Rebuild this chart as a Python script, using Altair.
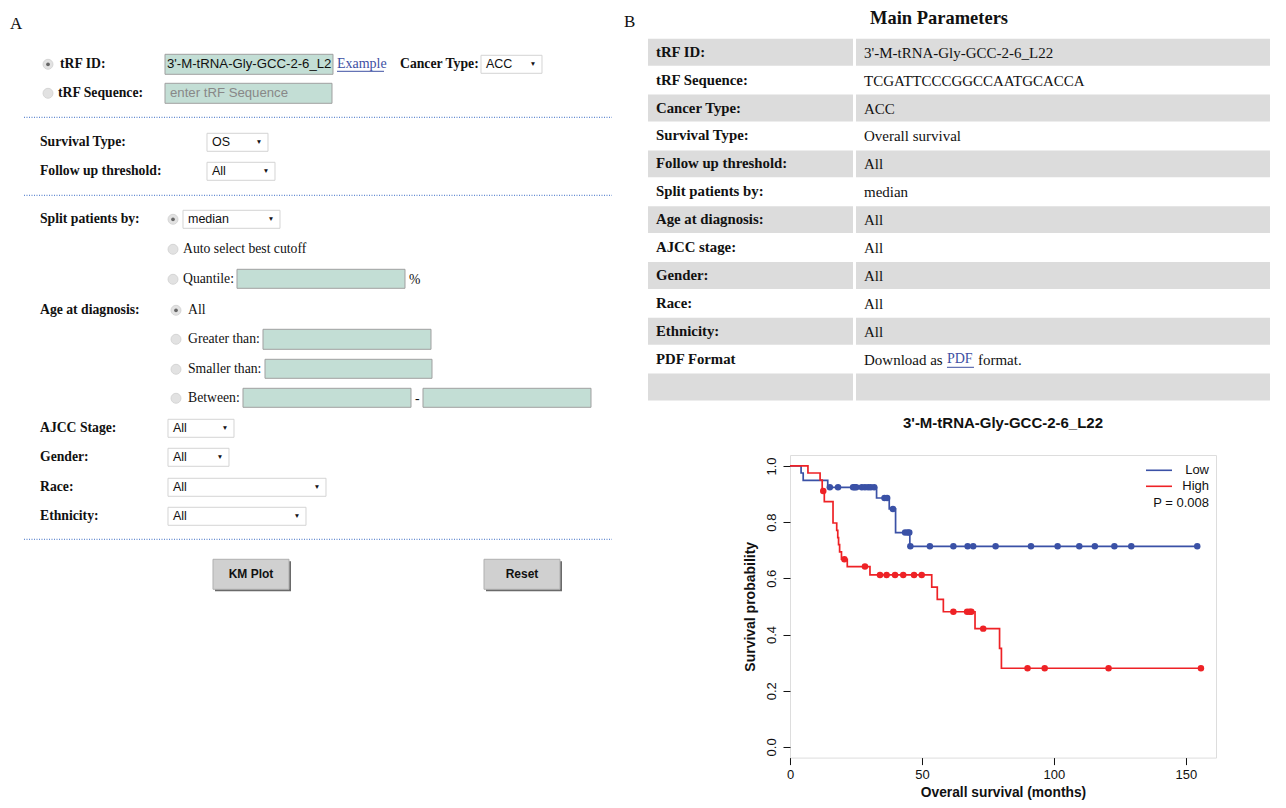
import altair as alt
import pandas as pd

SERIF = "Liberation Serif"
SANS = "Liberation Sans"
BLUE = "#3a51a6"
RED = "#ee2226"

# ---------------- KM data ----------------
low_step_t = [0, 4.2, 5.0, 14.3, 32.8, 37.6, 40.0, 45.4, 154.3]
low_step_s = [1.0, 0.975, 0.949, 0.924, 0.886, 0.847, 0.763, 0.714, 0.714]
low_cens_t = [15.1, 18.2, 23.9, 24.5, 25.1, 27.2, 28.4, 29.6, 30.6, 31.9,
              35.8, 36.8, 39.0, 43.6, 44.6, 45.2,
              45.6, 53.0, 61.9, 67.3, 69.4, 77.9, 91.3, 101.4, 109.6, 115.5, 122.9, 129.3, 154.3]
low_cens_s = [0.924] * 10 + [0.886, 0.886, 0.847, 0.763, 0.763, 0.763] + [0.714] * 13

high_step_t = [0, 6.8, 11.4, 12.2, 13.0, 16.3, 17.7, 18.1, 18.4, 18.8, 19.5, 21.7, 30.3,
               53.7, 55.8, 58.1, 70.1, 79.4, 80.1, 155.7]
high_step_s = [1.0, 0.975, 0.95, 0.911, 0.873, 0.797, 0.771, 0.745, 0.720, 0.694, 0.668, 0.642, 0.612,
               0.569, 0.525, 0.481, 0.421, 0.351, 0.280, 0.280]
high_cens_t = [12.6, 20.6, 28.4, 34.1, 36.6, 39.8, 42.9, 47.0, 49.9,
               61.9, 67.1, 68.1, 68.7, 73.2, 90.0, 96.5, 120.7, 155.7]
high_cens_s = [0.911, 0.668, 0.642] + [0.612] * 6 + [0.481] * 4 + [0.421] + [0.280] * 4

x_ticks = [0, 50, 100, 150]
y_ticks = [0.0, 0.2, 0.4, 0.6, 0.8, 1.0]

# ---------------- page texts / widgets (image coordinates) ----------------
form_bold = [("tRF ID:", 60, 64), ("Cancer Type:", 400, 64), ("tRF Sequence:", 58, 93),
             ("Survival Type:", 40, 142), ("Follow up threshold:", 40, 171),
             ("Split patients by:", 40, 219), ("Age at diagnosis:", 40, 310),
             ("AJCC Stage:", 40, 428), ("Gender:", 40, 457), ("Race:", 40, 487),
             ("Ethnicity:", 40, 516)]
form_plain = [("Auto select best cutoff", 183, 249), ("Quantile:", 183, 279), ("%", 409, 280),
              ("All", 188, 310), ("Greater than:", 188, 339), ("Smaller than:", 188, 369),
              ("Between:", 188, 398), ("-", 415, 399)]
inputs = [(165, 54, 333, 74), (165, 83, 332, 103), (237, 269, 405, 288), (263, 329, 431, 349),
          (265, 359, 432, 378), (243, 388, 411, 407), (423, 388, 591, 407)]
input_texts = [("3'-M-tRNA-Gly-GCC-2-6_L2", 167, 64, "#111111"), ("enter tRF Sequence", 170, 93, "#888888")]
selects = [(481, 55, 542, 73, "ACC"), (207, 133, 268, 151, "OS"), (207, 162, 275, 180, "All"),
           (183, 210, 280, 228, "median"), (168, 419, 234, 437, "All"), (168, 448, 229, 466, "All"),
           (168, 478, 326, 496, "All"), (168, 507, 306, 525, "All")]
radios = [(48, 64, 1), (48, 93, 0), (173, 219, 1), (173, 249, 0), (173, 279, 0),
          (176, 310, 1), (176, 339, 0), (176, 369, 0), (176, 398, 0)]
dotted = [(24, 612, 117), (24, 612, 195), (24, 612, 539)]
buttons = [(213, 559, 289, 589, "KM Plot"), (484, 559, 560, 589, "Reset")]
links = [("Example", 337, 64, 384, 71), ("PDF", 947, 359, 974, 367)]

table_labels = ["tRF ID:", "tRF Sequence:", "Cancer Type:", "Survival Type:", "Follow up threshold:",
                "Split patients by:", "Age at diagnosis:", "AJCC stage:", "Gender:", "Race:",
                "Ethnicity:", "PDF Format", ""]
table_values = ["3'-M-tRNA-Gly-GCC-2-6_L22", "TCGATTCCCGGCCAATGCACCA", "ACC", "Overall survival",
                "All", "median", "All", "All", "All", "All", "All", "Download as", ""]

# ---------------- scales ----------------
UX = alt.Scale(domain=[0, 1286], range=[-790, 496], nice=False, zero=False)
UY = alt.Scale(domain=[0, 808], range=[-454.7, 353.3], nice=False, zero=False)


def ux(f):
    return alt.X(f, type="quantitative", scale=UX, axis=None)


def uy(f):
    return alt.Y(f, type="quantitative", scale=UY, axis=None)


def ux2(f):
    return alt.X2(f)


def uy2(f):
    return alt.Y2(f)


def text_layer(rows, font, size, weight="normal", color="#111111", align="left"):
    df = pd.DataFrame(rows, columns=["t", "x", "y"])
    return alt.Chart(df).mark_text(align=align, baseline="middle", font=font, fontSize=size,
                                   fontWeight=weight, color=color).encode(
        x=ux("x"), y=uy("y"), text="t:N")


def rect_layer(rows, **kw):
    df = pd.DataFrame(rows, columns=["x1", "y1", "x2", "y2"])
    return alt.Chart(df).mark_rect(**kw).encode(x=ux("x1"), x2=ux2("x2"), y=uy("y1"), y2=uy2("y2"))


layers = []
# invisible frame that fixes the page extent
layers.append(rect_layer([(8, 8, 1278, 800)], opacity=0))

# panel letters
layers.append(text_layer([("A", 10, 24), ("B", 624, 22)], SERIF, 17))

# dotted separators
dd = pd.DataFrame(dotted, columns=["x1", "x2", "y"])
layers.append(alt.Chart(dd).mark_rule(color="#3b6cc4", strokeDash=[1, 1.5], strokeWidth=1).encode(
    x=ux("x1"), x2=ux2("x2"), y=uy("y")))

# input boxes
layers.append(rect_layer(inputs, fill="#c3ded5", stroke="#a0a0a0", strokeWidth=1))
# select boxes
layers.append(rect_layer([s[:4] for s in selects], fill="#ffffff", stroke="#d4d4d4", strokeWidth=1))
layers.append(text_layer([(s[4], s[0] + 5, (s[1] + s[3]) / 2) for s in selects], SANS, 12.5))
layers.append(text_layer([("\u25BC", s[2] - 9, (s[1] + s[3]) / 2) for s in selects], SANS, 6.5,
                         align="center"))
layers.append(alt.Chart(pd.DataFrame(input_texts, columns=["t", "x", "y", "c"])).mark_text(
    align="left", baseline="middle", font=SANS, fontSize=13.2).encode(
    x=ux("x"), y=uy("y"), text="t:N", color=alt.Color("c:N", scale=None)))

# radio buttons
rd = pd.DataFrame(radios, columns=["x", "y", "sel"])
layers.append(alt.Chart(rd).mark_point(shape="circle", filled=True, size=100, fill="#e2e2e2",
                                       stroke="#cfcfcf", strokeWidth=0.8, opacity=1).encode(x=ux("x"), y=uy("y")))
layers.append(alt.Chart(rd[rd.sel == 1]).mark_point(shape="circle", filled=True, size=14,
                                                    color="#666666", opacity=1).encode(x=ux("x"), y=uy("y")))

# form labels
layers.append(text_layer(form_bold, SERIF, 13.7, weight="bold"))
layers.append(text_layer(form_plain, SERIF, 13.7))

# links
lk = pd.DataFrame(links, columns=["t", "x", "y", "x2", "uy"])
layers.append(alt.Chart(lk).mark_text(align="left", baseline="middle", font=SERIF, fontSize=14,
                                      color="#3d4fa3").encode(x=ux("x"), y=uy("y"), text="t:N"))
layers.append(alt.Chart(lk).mark_rule(color="#3d4fa3", strokeWidth=1).encode(
    x=ux("x"), x2=ux2("x2"), y=uy("uy")))

# buttons
layers.append(rect_layer([(b[0] + 2, b[1] + 2, b[2] + 2, b[3] + 2) for b in buttons], fill="#6a6a6a"))
layers.append(rect_layer([b[:4] for b in buttons], fill="#d0d0d0", stroke="#b0b0b0", strokeWidth=1))
layers.append(text_layer([(b[4], (b[0] + b[2]) / 2, (b[1] + b[3]) / 2) for b in buttons], SANS, 12,
                         weight="bold", align="center"))

# ---- table ----
row_h = 27.9
top0 = 38.5
grey = []
for i in range(len(table_labels)):
    if i % 2 == 0:
        t = top0 + i * row_h
        grey.append((648, t, 853, t + row_h - 1))
        grey.append((856, t, 1270, t + row_h - 1))
layers.append(rect_layer(grey, fill="#dcdcdc"))
layers.append(text_layer([("Main Parameters", 939, 17.5)], SERIF, 18.5, weight="bold", align="center"))
layers.append(text_layer([(lab, 656, top0 + i * row_h + row_h / 2)
                          for i, lab in enumerate(table_labels) if lab], SERIF, 14.8, weight="bold"))
layers.append(text_layer([(v, 864, top0 + i * row_h + row_h / 2)
                          for i, v in enumerate(table_values) if v], SERIF, 15))
layers.append(text_layer([("format.", 978, top0 + 11 * row_h + row_h / 2)], SERIF, 15))

# ---- KM title + legend ----
layers.append(text_layer([("3'-M-tRNA-Gly-GCC-2-6_L22", 1003, 423)], SANS, 15, weight="bold", align="center"))
leg = pd.DataFrame([("Low", 1146, 1172, 470, BLUE), ("High", 1146, 1172, 486, RED)],
                   columns=["t", "x1", "x2", "y", "c"])
layers.append(alt.Chart(leg).mark_rule(strokeWidth=1.6).encode(
    x=ux("x1"), x2=ux2("x2"), y=uy("y"), color=alt.Color("c:N", scale=None)))
layers.append(text_layer([("Low", 1209, 470), ("High", 1209, 486), ("P = 0.008", 1209, 503)],
                         SANS, 13, align="right"))

ui = alt.layer(*layers)

# ---------------- KM plot ----------------
steps = pd.concat([
    pd.DataFrame({"t": low_step_t, "s": low_step_s, "g": "Low"}),
    pd.DataFrame({"t": high_step_t, "s": high_step_s, "g": "High"}),
])
cens = pd.concat([
    pd.DataFrame({"t": low_cens_t, "s": low_cens_s, "g": "Low"}),
    pd.DataFrame({"t": high_cens_t, "s": high_cens_s, "g": "High"}),
])

kx = alt.X("t:Q", scale=alt.Scale(domain=[0, 161.4], nice=False, zero=False),
           axis=alt.Axis(values=x_ticks, title="Overall survival (months)", domain=False, grid=False,
                         tickSize=7, tickColor="#111111", tickWidth=1, labelFontSize=13,
                         labelColor="#111111", labelPadding=4, labelFlush=False,
                         titleFontSize=13.8, titleFontWeight="bold", titleColor="#111111",
                         titlePadding=4, labelFont=SANS, titleFont=SANS))
ky = alt.Y("s:Q", scale=alt.Scale(domain=[-0.038, 1.039], nice=False, zero=False),
           axis=alt.Axis(values=y_ticks, format=".1f", title="Survival probability", domain=False,
                         grid=False, tickSize=7, tickColor="#111111", tickWidth=1, labelFontSize=13,
                         labelColor="#111111", labelPadding=4, labelAngle=270, labelAlign="center",
                         labelBaseline="bottom", labelFlush=False, titleFontSize=14,
                         titleFontWeight="bold", titleColor="#111111", titlePadding=8,
                         labelFont=SANS, titleFont=SANS))
kc = alt.Color("g:N", scale=alt.Scale(domain=["Low", "High"], range=[BLUE, RED]), legend=None)

km_lines = alt.Chart(steps).mark_line(interpolate="step-after", strokeWidth=1.7).encode(x=kx, y=ky, color=kc)
km_pts = alt.Chart(cens).mark_circle(size=42, opacity=1).encode(x=kx, y=ky, color=kc)
km = alt.layer(km_lines, km_pts)

chart = alt.layer(ui, km).resolve_scale(x="independent", y="independent", color="independent").properties(
    width=426, height=302.6, padding=0
).configure_view(stroke="#222222", strokeWidth=1.2).configure(font=SANS)

chart.save("out.html", embed_options={"renderer": "svg", "actions": False})
